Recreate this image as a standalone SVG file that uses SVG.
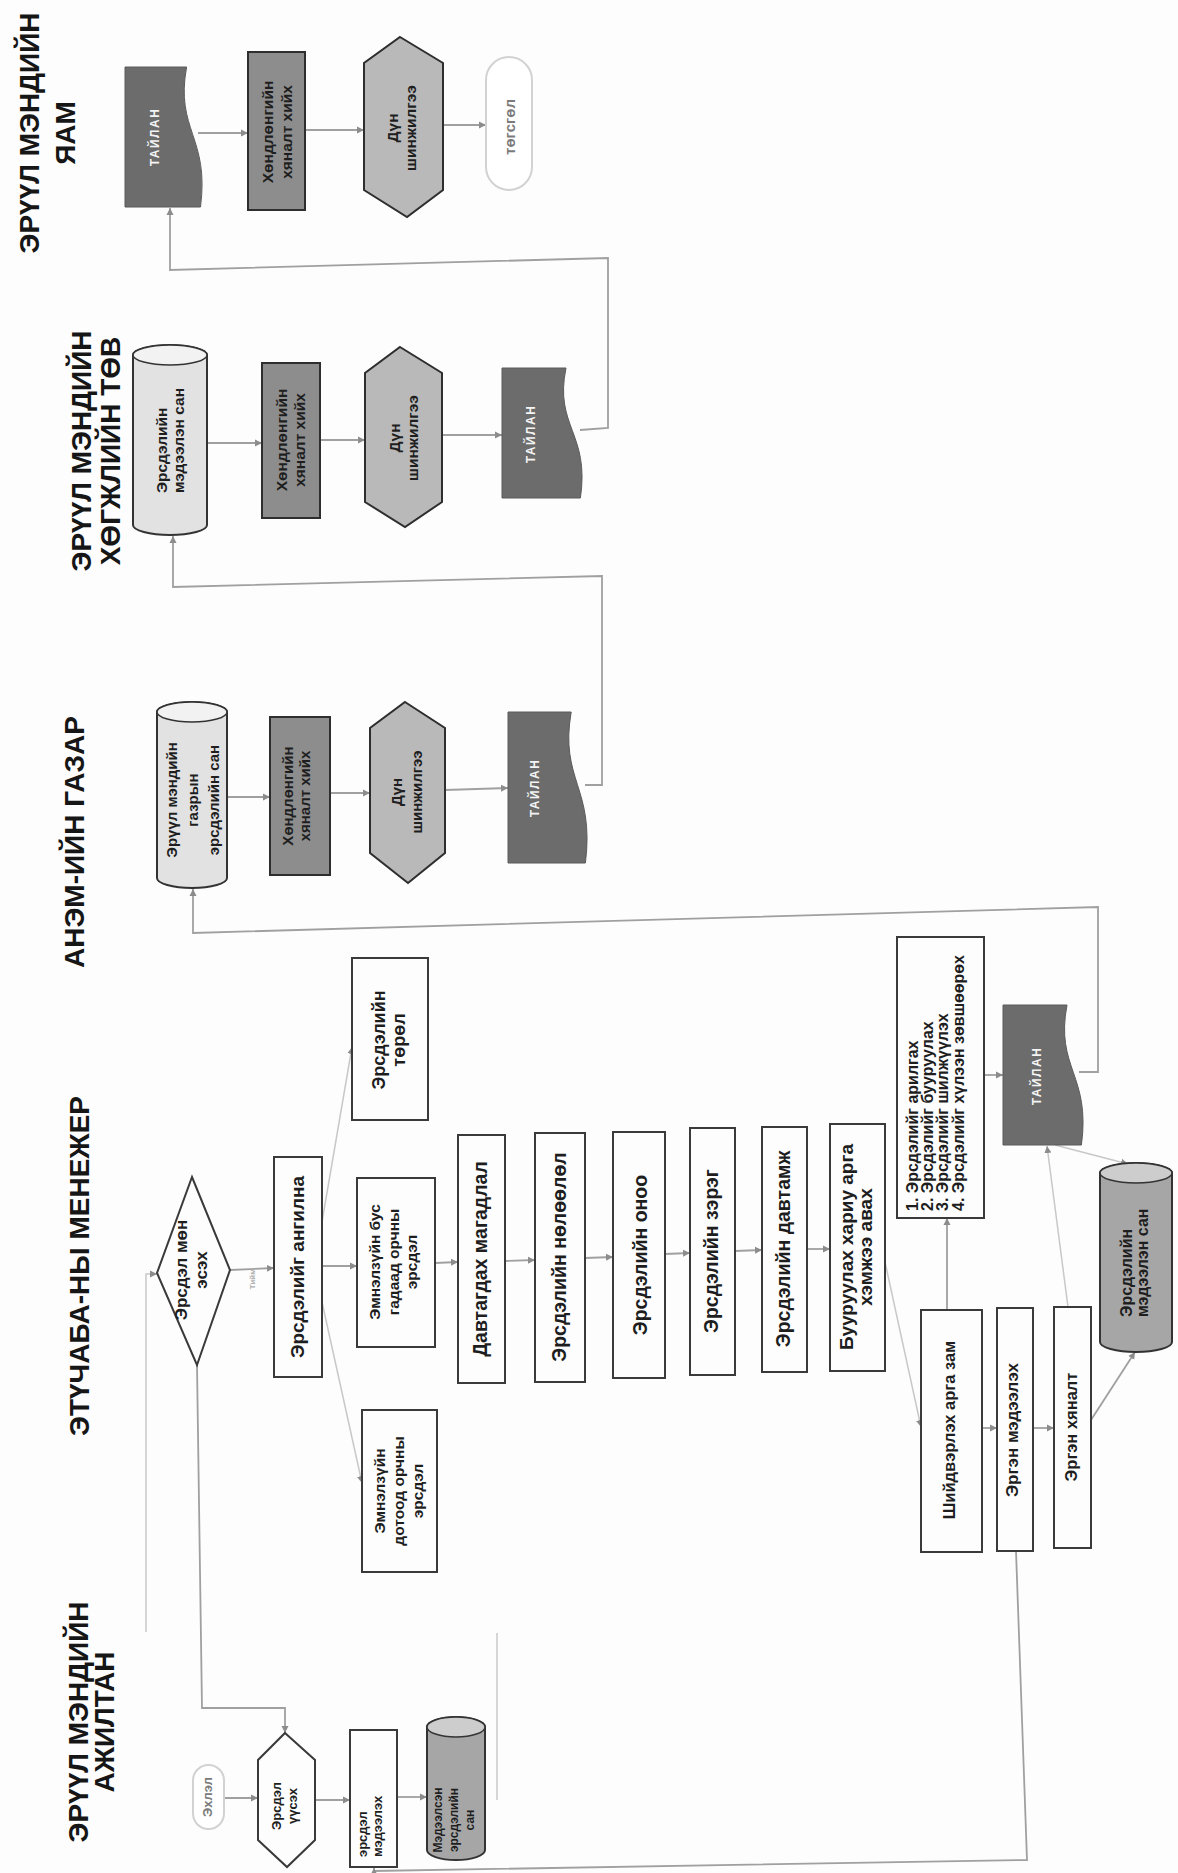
<svg xmlns="http://www.w3.org/2000/svg" width="1178" height="1873" viewBox="0 0 1178 1873">
<style>
.bg{fill:#fdfdfd}
.box{fill:#fdfdfd;stroke:#3a3a3a;stroke-width:2}
.dark{fill:#8d8d8d;stroke:#2e2e2e;stroke-width:2}
.hex{fill:#b9b9b9;stroke:#2e2e2e;stroke-width:2}
.doc{fill:#6c6c6c;stroke:#5a5a5a;stroke-width:1}
.cylL{fill:#e2e2e2;stroke:#333;stroke-width:2}
.cylD{fill:#a6a6a6;stroke:#333;stroke-width:2}
.capL{fill:#f2f2f2;stroke:#333;stroke-width:1.5}
.capD{fill:#cdcdcd;stroke:#333;stroke-width:1.5}
.term{fill:#fff;stroke:#d2d2d2;stroke-width:2}
.ln{fill:none;stroke:#a0a0a0;stroke-width:1.8}
.lf{fill:none;stroke:#c8c8c8;stroke-width:1.5}
.arr{marker-end:url(#ah)}
text{font-family:"Liberation Sans",Arial,sans-serif;font-weight:bold;fill:#1e1e1e;text-anchor:middle}
.hdr{font-size:28px;fill:#161616}
.st{text-anchor:start}
.wt{fill:#f4f4f4;font-size:12px;letter-spacing:1.5px}
.gy{fill:#7a7a7a}
</style>
<defs>
<marker id="ah" markerWidth="8" markerHeight="8" refX="7" refY="4" orient="auto" markerUnits="userSpaceOnUse"><path d="M0,0.5 L7,4 L0,7.5 Z" fill="#8c8c8c"/></marker>
</defs>
<rect class="bg" x="0" y="0" width="1178" height="1873"/>

<g id="headers">
<text class="hdr" transform="translate(88,1722) rotate(-90)"><tspan x="0" y="0">ЭРҮҮЛ МЭНДИЙН</tspan><tspan x="0" y="26">АЖИЛТАН</tspan></text>
<text class="hdr" transform="translate(89,1266) rotate(-90)">ЭТҮЧАБА-НЫ МЕНЕЖЕР</text>
<text class="hdr" transform="translate(84,842) rotate(-90)">АНЭМ-ИЙН ГАЗАР</text>
<text class="hdr" transform="translate(91,451) rotate(-90)"><tspan x="0" y="0">ЭРҮҮЛ МЭНДИЙН</tspan><tspan x="0" y="29">ХӨГЖЛИЙН ТӨВ</tspan></text>
<text class="hdr" transform="translate(39,133) rotate(-90)"><tspan x="0" y="0">ЭРҮҮЛ МЭНДИЙН</tspan><tspan x="0" y="36">ЯАМ</tspan></text>
</g>

<g id="connectors">
<path class="ln arr" d="M225 1798 L258 1798"/>
<path class="ln arr" d="M315 1800 L350 1800"/>
<path class="ln arr" d="M397 1797 L427 1797"/>
<path class="ln arr" d="M197 1365 L202 1708 L285 1708 L285 1733"/>
<path class="lf arr" d="M146 1632 L146 1274 L157 1274"/>
<path class="lf" d="M497 1633 L497 1800"/>
<path class="ln arr" d="M230 1270 L274 1268"/>
<path class="ln arr" d="M322 1266 L357 1266"/>
<path class="lf arr" d="M318 1245 L352 1047"/>
<path class="lf arr" d="M320 1293 L362 1483"/>
<path class="ln arr" d="M435 1263 L458 1262"/>
<path class="ln arr" d="M505 1261 L535 1260"/>
<path class="ln arr" d="M585 1258 L613 1257"/>
<path class="ln arr" d="M665 1254 L690 1253"/>
<path class="ln arr" d="M735 1251 L762 1250"/>
<path class="ln arr" d="M807 1249 L830 1249"/>
<path class="lf arr" d="M885 1262 L921 1427"/>
<path class="ln arr" d="M947 1310 L947 1218"/>
<path class="ln arr" d="M982 1428 L997 1428"/>
<path class="ln arr" d="M1033 1428 L1054 1428"/>
<path class="ln arr" d="M1091 1420 L1135 1352"/>
<path class="lf arr" d="M1068 1307 L1047 1146"/>
<path class="ln arr" d="M984 1075 L1003 1075"/>
<path class="lf arr" d="M1055 1145 L1128 1164"/>
<path class="ln arr" d="M1016 1551 L1027 1860 L374 1871 L374 1868"/>
<path class="ln arr" d="M1079 1072 L1098 1072 L1098 907 L193 933 L193 889"/>
<path class="ln arr" d="M227 797 L270 797"/>
<path class="ln arr" d="M330 793 L370 793"/>
<path class="ln arr" d="M445 790 L508 788"/>
<path class="ln arr" d="M585 785 L602 785 L602 576 L173 587 L173 536"/>
<path class="ln arr" d="M207 443 L262 443"/>
<path class="ln arr" d="M320 440 L365 440"/>
<path class="ln arr" d="M442 435 L502 435"/>
<path class="ln arr" d="M580 430 L608 428 L608 258 L170 270 L170 208"/>
<path class="ln arr" d="M198 133 L248 133"/>
<path class="ln arr" d="M305 130 L364 130"/>
<path class="ln arr" d="M443 125 L486 125"/>
</g>

<g id="n-start"><rect class="term" x="193" y="1765" width="31" height="64" rx="15.5"/><text class="gy" font-size="13" transform="translate(212,1797) rotate(-90)">Эхлэл</text></g>
<g id="n-occur"><polygon class="box" points="285,1733 315,1760 315,1840 287,1867 258,1840 258,1760"/><text font-size="13" transform="translate(281,1806) rotate(-90)"><tspan x="0" y="0">Эрсдэл</tspan><tspan x="0" y="16">үүсэх</tspan></text></g>
<g id="n-report"><rect class="box" x="350" y="1730" width="47" height="137"/><text class="st" font-size="13" transform="translate(367,1857) rotate(-90)"><tspan x="0" y="0">эрсдэл</tspan><tspan x="0" y="15">мэдээлэх</tspan></text></g>
<g id="n-reported-db"><path class="cylD" d="M427 1727 A29 10 0 0 1 485 1727 L485 1850 A29 10 0 0 1 427 1850 Z"/><ellipse class="capD" cx="456" cy="1727" rx="29" ry="10"/><text font-size="12" transform="translate(442,1820) rotate(-90)"><tspan x="0" y="0">Мэдээлсэн</tspan><tspan x="0" y="16">эрсдэлийн</tspan><tspan x="0" y="32">сан</tspan></text></g>

<g id="n-decision"><polygon class="box" points="192,1177 230,1270 197,1365 157,1273"/><text font-size="17" transform="translate(187,1270) rotate(-90)"><tspan x="0" y="0">Эрсдэл мөн</tspan><tspan x="0" y="20">эсэх</tspan></text><text font-size="8" style="fill:#b0b0b0" transform="translate(255,1279) rotate(-90)">Тийм</text></g>
<g id="n-classify"><rect class="box" x="274" y="1157" width="48" height="220"/><text font-size="19" transform="translate(304,1267) rotate(-90)">Эрсдэлийг ангилна</text></g>
<g id="n-nonclinical"><rect class="box" x="357" y="1178" width="78" height="169"/><text font-size="15.5" transform="translate(380,1262) rotate(-90)"><tspan x="0" y="0">Эмнэлзүйн бус</tspan><tspan x="0" y="18.5">гадаад орчны</tspan><tspan x="0" y="37">эрсдэл</tspan></text></g>
<g id="n-clinical"><rect class="box" x="362" y="1410" width="75" height="162"/><text font-size="15.5" transform="translate(385,1491) rotate(-90)"><tspan x="0" y="0">Эмнэлзүйн</tspan><tspan x="0" y="19">дотоод орчны</tspan><tspan x="0" y="38">эрсдэл</tspan></text></g>
<g id="n-type"><rect class="box" x="352" y="958" width="76" height="162"/><text font-size="18" transform="translate(385,1040) rotate(-90)"><tspan x="0" y="0">Эрсдэлийн</tspan><tspan x="0" y="20">төрөл</tspan></text></g>
<g id="n-likelihood"><rect class="box" x="458" y="1135" width="47" height="248"/><text font-size="19.5" transform="translate(487,1259) rotate(-90)">Давтагдах магадлал</text></g>
<g id="n-impact"><rect class="box" x="535" y="1133" width="50" height="249"/><text font-size="19.5" transform="translate(566,1257) rotate(-90)">Эрсдэлийн нөлөөлөл</text></g>
<g id="n-score"><rect class="box" x="613" y="1132" width="52" height="246"/><text font-size="19.5" transform="translate(647,1255) rotate(-90)">Эрсдэлийн оноо</text></g>
<g id="n-level"><rect class="box" x="690" y="1128" width="45" height="247"/><text font-size="19.5" transform="translate(718,1251) rotate(-90)">Эрсдэлийн зэрэг</text></g>
<g id="n-frequency"><rect class="box" x="762" y="1127" width="45" height="245"/><text font-size="19.5" transform="translate(790,1249) rotate(-90)">Эрсдэлийн давтамж</text></g>
<g id="n-mitigate"><rect class="box" x="830" y="1124" width="55" height="247"/><text font-size="19" transform="translate(853,1247) rotate(-90)"><tspan x="0" y="0">Бууруулах хариу арга</tspan><tspan x="0" y="19">хэмжээ авах</tspan></text></g>
<g id="n-options"><rect class="box" x="897" y="937" width="87" height="281"/><text class="st" font-size="16" transform="translate(918,1211) rotate(-90)"><tspan x="0" y="0">1. Эрсдэлийг арилгах</tspan><tspan x="0" y="15">2. Эрсдэлийг бууруулах</tspan><tspan x="0" y="30">3. Эрсдэлийг шилжүүлэх</tspan><tspan x="0" y="46">4. Эрсдэлийг хүлээн зөвшөөрөх</tspan></text></g>
<g id="n-solution"><rect class="box" x="921" y="1310" width="61" height="242"/><text font-size="16.5" transform="translate(955,1430) rotate(-90)">Шийдвэрлэх арга зам</text></g>
<g id="n-feedback"><rect class="box" x="997" y="1308" width="36" height="243"/><text font-size="17" transform="translate(1018,1430) rotate(-90)">Эргэн мэдээлэх</text></g>
<g id="n-review"><rect class="box" x="1054" y="1307" width="37" height="241"/><text font-size="16.5" transform="translate(1077,1427) rotate(-90)">Эргэн хяналт</text></g>
<g id="n-risk-db"><path class="cylD" d="M1100 1173 A36 10 0 0 1 1172 1173 L1172 1342 A36 10 0 0 1 1100 1342 Z"/><ellipse class="capD" cx="1136" cy="1173" rx="36" ry="10"/><text class="st" font-size="16" transform="translate(1132,1317) rotate(-90)"><tspan x="0" y="0">Эрсдэлийн</tspan><tspan x="0" y="16">мэдээлэн сан</tspan></text></g>
<g id="n-report-etu"><path class="doc" d="M1003 1005 L1067 1005 C1055 1068 1091 1075 1081.4 1145 L1003 1145 Z"/><text class="wt" transform="translate(1041,1076) rotate(-90)">ТАЙЛАН</text></g>

<g id="n-anem-db"><path class="cylL" d="M157 712 A35 10 0 0 1 227 712 L227 878 A35 10 0 0 1 157 878 Z"/><ellipse class="capL" cx="192" cy="712" rx="35" ry="10"/><text font-size="15" transform="translate(177,800) rotate(-90)"><tspan x="0" y="0">Эрүүл мэндийн</tspan><tspan x="0" y="21">газрын</tspan><tspan x="0" y="42">эрсдэлийн сан</tspan></text></g>
<g id="n-anem-audit"><rect class="dark" x="270" y="717" width="60" height="158"/><text font-size="15" transform="translate(293,796) rotate(-90)"><tspan x="0" y="0">Хөндлөнгийн</tspan><tspan x="0" y="17">хяналт хийх</tspan></text></g>
<g id="n-anem-analysis"><polygon class="hex" points="405,702 445,728 445,853 408,883 370,853 370,728"/><text font-size="15" transform="translate(402,792) rotate(-90)"><tspan x="0" y="0">Дүн</tspan><tspan x="0" y="20">шинжилгээ</tspan></text></g>
<g id="n-anem-report"><path class="doc" d="M508 712 L571.2 712 C559.4 780 594.9 787.5 585.4 863 L508 863 Z"/><text class="wt" transform="translate(539,788) rotate(-90)">ТАЙЛАН</text></g>

<g id="n-tov-db"><path class="cylL" d="M133 355 A37 10 0 0 1 207 355 L207 525 A37 10 0 0 1 133 525 Z"/><ellipse class="capL" cx="170" cy="355" rx="37" ry="10"/><text class="st" font-size="15.5" transform="translate(167,493) rotate(-90)"><tspan x="0" y="0">Эрсдэлийн</tspan><tspan x="0" y="17">мэдээлэн сан</tspan></text></g>
<g id="n-tov-audit"><rect class="dark" x="262" y="363" width="58" height="155"/><text font-size="15.5" transform="translate(287,440) rotate(-90)"><tspan x="0" y="0">Хөндлөнгийн</tspan><tspan x="0" y="18">хяналт хийх</tspan></text></g>
<g id="n-tov-analysis"><polygon class="hex" points="400,347 442,373 442,502 405,527 365,502 365,373"/><text font-size="15.5" transform="translate(400,438) rotate(-90)"><tspan x="0" y="0">Дүн</tspan><tspan x="0" y="18">шинжилгээ</tspan></text></g>
<g id="n-tov-report"><path class="doc" d="M502 368 L566 368 C554 426.5 590 433 580.4 498 L502 498 Z"/><text class="wt" transform="translate(535,434) rotate(-90)">ТАЙЛАН</text></g>

<g id="n-yam-report"><path class="doc" d="M125 67 L186.6 67 C175 130 209.7 137 200.5 207 L125 207 Z"/><text class="wt" transform="translate(159,137) rotate(-90)">ТАЙЛАН</text></g>
<g id="n-yam-audit"><rect class="dark" x="248" y="52" width="57" height="158"/><text font-size="15.5" transform="translate(273,132) rotate(-90)"><tspan x="0" y="0">Хөндлөнгийн</tspan><tspan x="0" y="19">хяналт хийх</tspan></text></g>
<g id="n-yam-analysis"><polygon class="hex" points="400,37 443,63 443,190 407,217 364,190 364,63"/><text font-size="15.5" transform="translate(398,128) rotate(-90)"><tspan x="0" y="0">Дүн</tspan><tspan x="0" y="18">шинжилгээ</tspan></text></g>
<g id="n-end"><rect class="term" x="486" y="57" width="46" height="133" rx="23"/><text class="gy" font-size="15" transform="translate(515,127) rotate(-90)">төгсгөл</text></g>
</svg>
